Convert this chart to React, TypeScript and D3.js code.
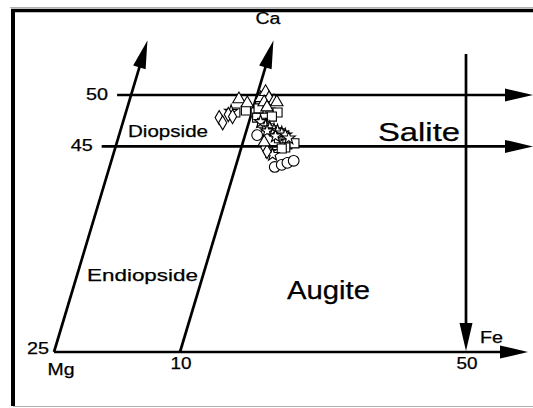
import React from 'react';
import * as d3 from 'd3';

const W = 533;
const H = 408;

// Fe axis ticks (schematic, not evenly spaced) and Wo (Ca) ticks
const feTicks = [0, 10, 50];
const feTickLabels = ['', '10', '50'];
const woTicks = [45, 50];
const woBase = 25;
const woTop = 55.3;

// sample compositions: [Fe, Ca]
const triangles: [number, number][] = [
  [18.24, 49.6], [19.41, 49.2], [21.28, 49.7], [21.97, 50.3], [22.46, 49.7],
  [23.15, 49.4], [23.54, 49.3], [21.77, 49.3], [22.17, 48.8], [21.77, 45.4],
];
const diamonds: [number, number][] = [
  [15.48, 47.8], [15.97, 47.3], [16.76, 48.1], [17.35, 47.9], [21.87, 44.9], [22.17, 44.5],
];
const squares: [number, number][] = [
  [17.74, 48.3], [19.22, 48.5], [20.59, 48.3], [21.77, 48.3], [22.66, 48.3], [23.64, 48.3],
  [20.79, 47.8], [21.87, 47.8], [22.85, 47.9], [21.48, 47.3], [20.99, 48.7],
  [23.84, 45.8], [24.62, 45.6], [25.02, 45.2], [26.0, 45.3], [24.72, 44.9], [24.23, 44.8],
];
const circles: [number, number][] = [
  [20.79, 46.1], [23.25, 43.0], [24.23, 43.2], [25.02, 43.4], [25.9, 43.6],
];
const stars: [number, number][] = [
  [17.15, 48.4], [21.28, 47.4], [21.97, 47.0], [22.56, 46.8], [23.15, 46.6], [23.64, 46.5],
  [24.23, 46.3], [24.72, 46.1], [25.21, 45.8], [22.56, 44.5], [22.95, 44.2], [22.17, 46.5], [23.35, 46.0],
];

const x = d3.scaleLinear().domain(feTicks).range([54, 180, 466]);
const y = d3.scaleLinear().domain([woBase, 50]).range([352, 95]);
const skew = 0.3;
const shift = (wo: number) => (y(woBase) - y(wo)) * skew;

const font = '"Liberation Sans", Arial, sans-serif';

function Arrow({ x1, y1, x2, y2 }: { x1: number; y1: number; x2: number; y2: number }) {
  const len = 28;
  const hw = 6.5;
  const dx = x2 - x1;
  const dy = y2 - y1;
  const d = Math.hypot(dx, dy);
  const ux = dx / d;
  const uy = dy / d;
  const bx = x2 - ux * len;
  const by = y2 - uy * len;
  const pts = [
    [x2, y2],
    [bx - uy * hw, by + ux * hw],
    [bx + uy * hw, by - ux * hw],
  ];
  return (
    <g>
      <line x1={x1} y1={y1} x2={bx + ux * 2} y2={by + uy * 2} stroke="black" strokeWidth={2.7} />
      <polygon points={pts.map((p) => p.join(',')).join(' ')} fill="black" />
    </g>
  );
}

function Label({ x: lx, y: ly, w, size, anchor = 'start', children }: any) {
  return (
    <text
      x={lx}
      y={ly}
      fontSize={size}
      fontFamily={font}
      textAnchor={anchor}
      textLength={w}
      lengthAdjust="spacingAndGlyphs"
      fill="black"
      stroke="black"
      strokeWidth={0.25}
    >
      {children}
    </text>
  );
}

const markers = [
  { data: squares, type: d3.symbolSquare, size: 82 },
  { data: stars, type: d3.symbolStar, size: 52 },
  { data: diamonds, type: d3.symbolDiamond, size: 58 },
  { data: triangles, type: d3.symbolTriangle, size: 66 },
  { data: circles, type: d3.symbolCircle, size: 90 },
];

export default function App() {
  const lineStart = (wo: number) => x(0) + shift(wo) - 14;
  return (
    <svg
      width={W}
      height={H}
      style={{ position: 'absolute', left: 0, top: 0, background: 'white' }}
    >
      {/* frame */}
      <line x1={10} y1={7.5} x2={W} y2={7.5} stroke="#b0b0b0" strokeWidth={1} />
      <line x1={13} y1={406.5} x2={W} y2={406.5} stroke="#b0b0b0" strokeWidth={1} />
      <line x1={13} y1={9} x2={13} y2={406} stroke="black" strokeWidth={4} />
      <line x1={11} y1={10.5} x2={W} y2={10.5} stroke="black" strokeWidth={3.5} />

      {/* Fe axis */}
      <Arrow x1={x(0)} y1={y(woBase)} x2={W - 5} y2={y(woBase)} />

      {/* Wo lines */}
      {woTicks.map((wo) => (
        <Arrow key={wo} x1={lineStart(wo)} y1={y(wo)} x2={W} y2={y(wo)} />
      ))}

      {/* slanted Ca lines */}
      {feTicks.slice(0, 2).map((fe) => (
        <Arrow key={fe} x1={x(fe)} y1={y(woBase)} x2={x(fe) + shift(woTop)} y2={y(woTop)} />
      ))}

      {/* Fe = 50 line */}
      <Arrow x1={x(50)} y1={y(54)} x2={x(50)} y2={y(woBase) - 1} />

      {/* tick labels */}
      {feTicks.map((fe, i) => (
        <Label key={fe} x={x(fe) + 1} y={369} w={21} size={16} anchor="middle">
          {feTickLabels[i]}
        </Label>
      ))}
      {woTicks.map((wo) => (
        <Label key={wo} x={lineStart(wo) - 9} y={y(wo) + 5} w={22} size={16} anchor="end">
          {wo}
        </Label>
      ))}
      <Label x={49} y={354} w={22} size={16} anchor="end">25</Label>
      <Label x={x(0) + 7} y={375} w={27} size={16} anchor="middle">Mg</Label>
      <Label x={x(50) + 14} y={343} w={23} size={16}>Fe</Label>
      <Label x={268} y={24} w={25} size={16} anchor="middle">Ca</Label>

      {/* field names */}
      <Label x={128} y={137} w={80} size={17}>Diopside</Label>
      <Label x={87} y={281} w={111} size={17}>Endiopside</Label>
      <Label x={378} y={141} w={82} size={26}>Salite</Label>
      <Label x={287} y={299} w={83} size={26}>Augite</Label>

      {/* samples */}
      {markers.map((m, i) => (
        <g key={i}>
          {m.data.map(([fe, wo], j) => (
            <path
              key={j}
              d={d3.symbol().type(m.type).size(m.size)() || ''}
              transform={`translate(${x(fe)},${y(wo)})`}
              fill="white"
              stroke="black"
              strokeWidth={1.1}
            />
          ))}
        </g>
      ))}
    </svg>
  );
}
